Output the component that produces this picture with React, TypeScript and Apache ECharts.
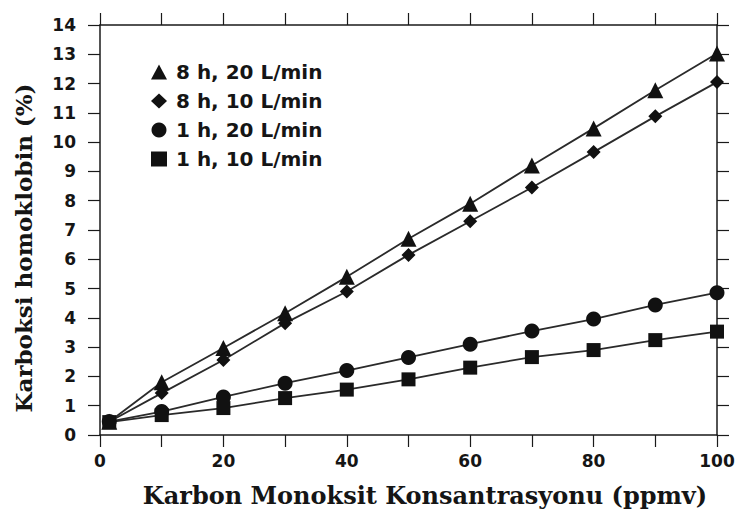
import React, { useEffect, useRef } from "react";
import * as echarts from "echarts";

const xValues = [1.5, 10, 20, 30, 40, 50, 60, 70, 80, 90, 100];
const seriesNames = ["8 h, 20 L/min", "8 h, 10 L/min", "1 h, 20 L/min", "1 h, 10 L/min"];
const seriesSymbols = ["triangle", "diamond", "circle", "rect"];
const tri8h20 = [0.45, 1.8, 2.97, 4.16, 5.4, 6.7, 7.9, 9.2, 10.47, 11.77, 13.03];
const dia8h10 = [0.45, 1.43, 2.56, 3.82, 4.9, 6.15, 7.3, 8.45, 9.66, 10.88, 12.05];
const cir1h20 = [0.46, 0.8, 1.3, 1.77, 2.2, 2.65, 3.1, 3.55, 3.96, 4.44, 4.86];
const sq1h10 = [0.44, 0.68, 0.92, 1.26, 1.55, 1.9, 2.3, 2.66, 2.9, 3.24, 3.53];
const allValues = [tri8h20, dia8h10, cir1h20, sq1h10];
const xTitle = "Karbon Monoksit Konsantrasyonu (ppmv)";
const yTitle = "Karboksi homoklobin (%)";

const SANS = '"DejaVu Sans", sans-serif';
const SERIF = '"DejaVu Serif", serif';

export default function App() {
  const ref = useRef<HTMLDivElement>(null);
  useEffect(() => {
    if (!ref.current) return;
    const chart = echarts.init(ref.current, null, { renderer: "svg" });
    const axisLine = { show: true, onZero: false, lineStyle: { color: "#1a1a1a", width: 1.5 } };
    const tick = { show: true, inside: false, length: 12, lineStyle: { color: "#1a1a1a", width: 1.2 } };
    const symbolSizes = [16, 14, 15, 14];
    chart.setOption({
      animation: false,
      backgroundColor: "#ffffff",
      grid: { left: 100, right: 24, top: 25, bottom: 81 },
      xAxis: [
        {
          type: "value", position: "bottom", min: 0, max: 100, interval: 10,
          axisLine, axisTick: tick, splitLine: { show: false },
          axisLabel: {
            margin: 17, color: "#151515", fontFamily: SANS, fontWeight: "bold", fontSize: 17,
            formatter: (v: number) => (v % 20 === 0 ? String(v) : ""),
          },
        },
        {
          type: "value", position: "top", min: 0, max: 100, interval: 10,
          axisLine, axisTick: tick, splitLine: { show: false }, axisLabel: { show: false },
        },
      ],
      yAxis: [
        {
          type: "value", position: "left", min: 0, max: 14, interval: 1,
          axisLine, axisTick: tick, splitLine: { show: false },
          axisLabel: { margin: 24, color: "#151515", fontFamily: SANS, fontWeight: "bold", fontSize: 17 },
        },
        {
          type: "value", position: "right", min: 0, max: 14, interval: 1,
          axisLine, axisTick: tick, splitLine: { show: false }, axisLabel: { show: false },
        },
      ],
      legend: {
        orient: "vertical", left: 146, top: 57, itemGap: 9, itemWidth: 16, itemHeight: 15,
        textStyle: { fontFamily: SANS, fontWeight: "bold", fontSize: 20, color: "#151515", lineHeight: 20, padding: [0, 0, 0, 4] },
        data: seriesNames.map((n, i) => ({ name: n, icon: seriesSymbols[i] })),
      },
      series: seriesNames.map((name, i) => ({
        name, type: "line",
        data: xValues.map((x, j) => [x, allValues[i][j]]),
        symbol: seriesSymbols[i], symbolSize: symbolSizes[i],
        itemStyle: { color: "#111111" },
        lineStyle: { color: "#2a2a2a", width: 1.8 },
      })),
      graphic: [
        {
          type: "text", x: 425, y: 495,
          style: { text: xTitle, fill: "#151515", fontFamily: SERIF, fontWeight: "bold", fontSize: 24, textAlign: "center", textVerticalAlign: "middle" },
        },
        {
          type: "text", x: 23, y: 248, rotation: Math.PI / 2,
          style: { text: yTitle, fill: "#151515", fontFamily: SERIF, fontWeight: "bold", fontSize: 23, textAlign: "center", textVerticalAlign: "middle" },
        },
      ],
    });
    return () => chart.dispose();
  }, []);
  return <div ref={ref} style={{ width: 741, height: 516, position: "absolute", left: 0, top: 0 }} />;
}
